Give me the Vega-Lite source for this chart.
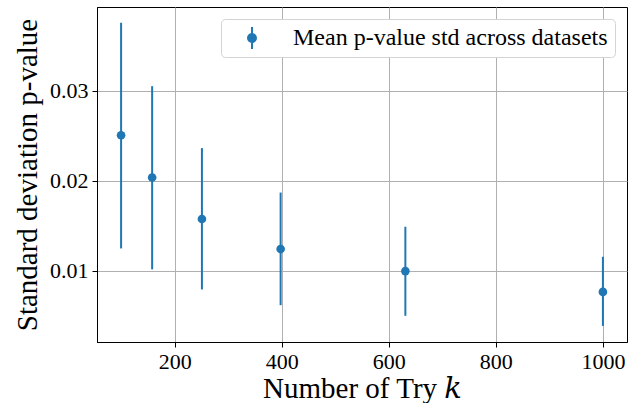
{
  "$schema": "https://vega.github.io/schema/vega-lite/v6.json",
  "width": 530,
  "height": 335,
  "autosize": "none",
  "padding": {"left": 97, "top": 7, "right": 11, "bottom": 61},
  "background": "white",
  "config": {
    "font": "Liberation Serif",
    "view": {"stroke": "black", "strokeWidth": 1},
    "axis": {
      "labelFont": "Liberation Serif",
      "titleFont": "Liberation Serif",
      "labelFontSize": 22,
      "titleFontSize": 29,
      "titleFontWeight": "normal",
      "labelColor": "black",
      "titleColor": "black",
      "domainColor": "black",
      "tickColor": "black",
      "tickSize": 5,
      "labelPadding": 4,
      "gridColor": "#b0b0b0",
      "gridWidth": 1,
      "gridOpacity": 1
    }
  },
  "data": {
    "values": [
      {"k": 100, "mean": 0.02507, "lo": 0.01249, "hi": 0.03757, "series": "Mean p-value std across datasets"},
      {"k": 158, "mean": 0.02037, "lo": 0.01016, "hi": 0.03052, "series": "Mean p-value std across datasets"},
      {"k": 251, "mean": 0.01576, "lo": 0.00793, "hi": 0.02364, "series": "Mean p-value std across datasets"},
      {"k": 398, "mean": 0.01242, "lo": 0.00618, "hi": 0.0187, "series": "Mean p-value std across datasets"},
      {"k": 631, "mean": 0.00997, "lo": 0.005, "hi": 0.0149, "series": "Mean p-value std across datasets"},
      {"k": 1000, "mean": 0.00766, "lo": 0.00388, "hi": 0.01156, "series": "Mean p-value std across datasets"}
    ]
  },
  "layer": [
    {
      "mark": {"type": "rule", "color": "#1f77b4", "strokeWidth": 2},
      "encoding": {
        "x": {"field": "k", "type": "quantitative",
          "scale": {"domain": [55, 1045], "nice": false, "zero": false},
          "axis": {"values": [200, 400, 600, 800, 1000], "format": "d", "title": "Number of Try 𝑘", "titlePadding": 2, "labelFlush": false,
            "labelFont": "Liberation Serif", "titleFont": "Liberation Serif, DejaVu Serif"}},
        "y": {"field": "lo", "type": "quantitative",
          "scale": {"domain": [0.00209, 0.03932], "nice": false, "zero": false},
          "axis": {"values": [0.01, 0.02, 0.03], "format": ".2f", "title": "Standard deviation p-value", "titlePadding": 7,
            "labelFont": "Liberation Serif", "titleFont": "Liberation Serif"}},
        "y2": {"field": "hi"}
      }
    },
    {
      "mark": {"type": "point", "filled": true, "opacity": 1, "size": 75},
      "encoding": {
        "x": {"field": "k", "type": "quantitative"},
        "y": {"field": "mean", "type": "quantitative"},
        "color": {"field": "series", "type": "nominal",
          "scale": {"range": ["#1f77b4"]},
          "legend": {
            "title": null,
            "orient": "top-right",
            "offset": 12,
            "padding": 7,
            "strokeColor": "#d4d4d4",
            "fillColor": "white",
            "cornerRadius": 4,
            "labelFont": "Liberation Serif",
            "labelFontSize": 24,
            "labelColor": "black",
            "labelLimit": 600,
            "symbolType": "M-0.45,0 A0.45,0.45 0 1,1 0.45,0 A0.45,0.45 0 1,1 -0.45,0 Z M-0.09,-1 L0.09,-1 L0.09,-0.3 L-0.09,-0.3 Z M-0.09,0.3 L0.09,0.3 L0.09,1 L-0.09,1 Z",
            "symbolSize": 484,
            "symbolStrokeWidth": 0,
            "symbolFillColor": "#1f77b4",
            "symbolOpacity": 1,
            "symbolOffset": 12,
            "labelOffset": 29,
            "rowPadding": 0
          }
        }
      }
    }
  ]
}
